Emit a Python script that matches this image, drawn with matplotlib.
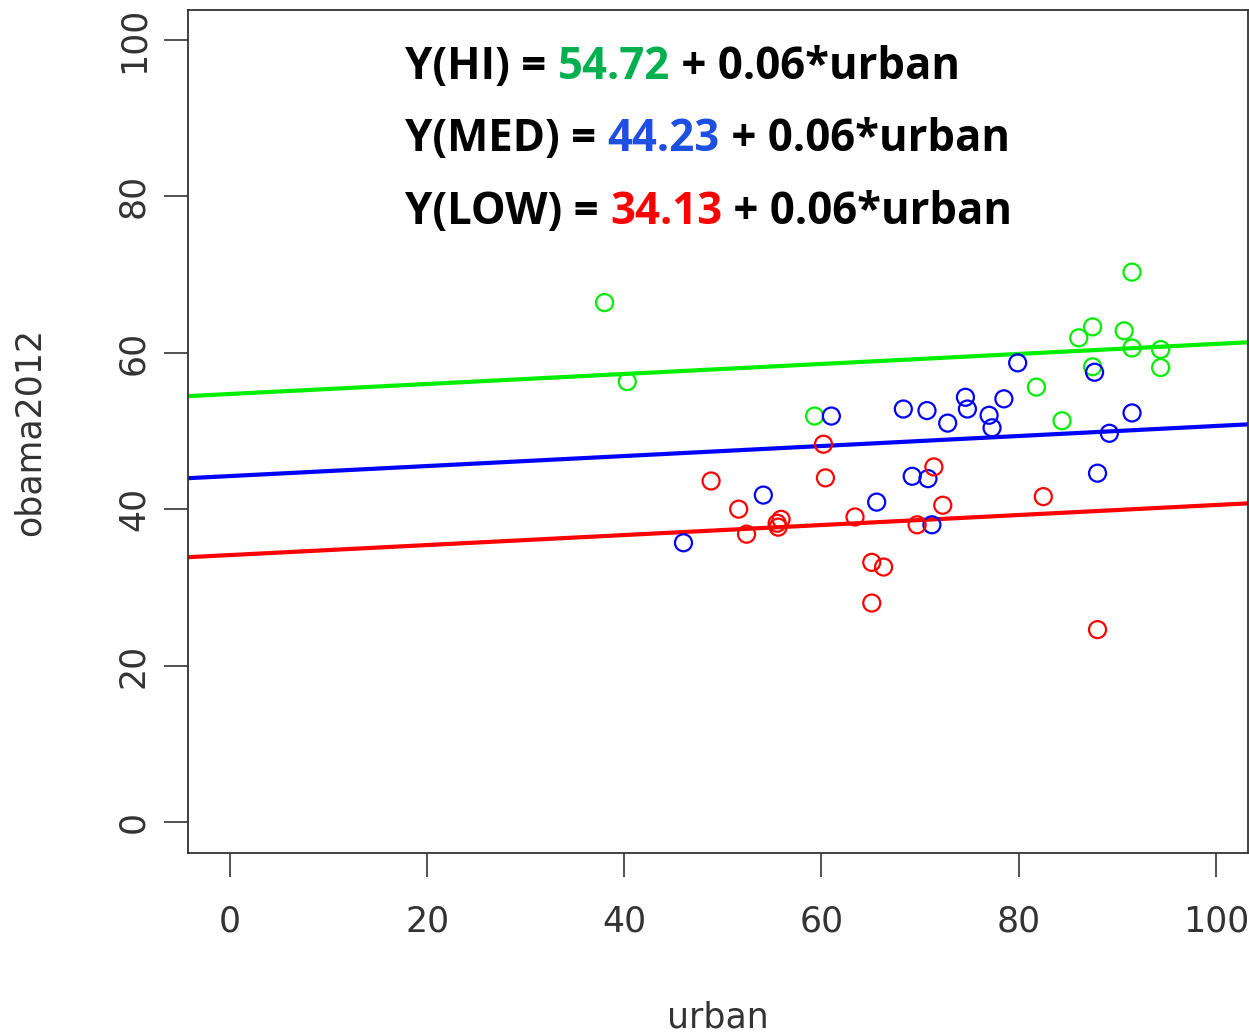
import numpy as np
import matplotlib
matplotlib.use("Agg")
from matplotlib import pyplot as plt

# datos
hi_x = [38.0, 40.3, 59.3, 81.8, 84.4, 86.1, 87.5, 87.5, 90.7, 91.5, 91.5, 94.4, 94.4]
hi_y = [66.4, 56.3, 51.9, 55.6, 51.3, 61.9, 63.3, 58.2, 62.8, 70.3, 60.6, 60.4, 58.1]
med_x = [46.0, 54.1, 61.0, 65.6, 68.3, 69.2, 70.7, 70.8, 71.2, 72.8, 74.6, 74.8, 77.0, 77.3,
         78.5, 79.9, 87.7, 88.0, 89.2, 91.5]
med_y = [35.7, 41.8, 51.9, 40.9, 52.8, 44.2, 52.6, 43.9, 38.0, 51.0, 54.3, 52.8, 52.0, 50.4,
         54.1, 58.7, 57.5, 44.6, 49.7, 52.3]
low_x = [48.8, 51.6, 52.4, 55.5, 55.9, 55.6, 60.2, 60.4, 63.4, 65.1, 66.3, 65.1, 71.4, 72.3,
         69.7, 82.5, 88.0]
low_y = [43.6, 40.0, 36.8, 38.2, 38.7, 37.7, 48.3, 44.0, 39.0, 33.2, 32.6, 28.0, 45.4, 40.5,
         38.0, 41.6, 24.6]
labels = ["HI", "MED", "LOW"]
intercepts = [54.72, 44.23, 34.13]
slope = 0.064
colors = ["#00ee00", "#0000ff", "#ff0000"]
text_colors = ["#00b050", "#1f4fe0", "#ff0000"]

fig = plt.figure(figsize=(12.49, 10.35), dpi=100)
ax = fig.add_axes([0.1505, 0.1758, 0.849, 0.8145])

xs = [hi_x, med_x, low_x]
ys = [hi_y, med_y, low_y]
for i in range(3):
    ax.scatter(xs[i], ys[i], s=150, facecolors="none", edgecolors=colors[i], linewidths=1.6, zorder=3)
    lx = np.array([-10, 110])
    ax.plot(lx, intercepts[i] + slope * lx, color=colors[i], lw=3, zorder=2)

ax.set_xlim(-4.26, 103.3)
ax.set_ylim(-3.96, 103.8)
ax.set_xticks(range(0, 101, 20))
ax.set_yticks(range(0, 101, 20))
ax.tick_params(direction="out", length=17, width=1.2, labelsize=25, colors="#333333")
ax.tick_params(axis="x", pad=20)
ax.tick_params(axis="y", pad=10)
for lab in ax.get_yticklabels():
    lab.set_rotation(90)
    lab.set_va("center")
for s in ax.spines.values():
    s.set_linewidth(1.3)
    s.set_color("#333333")
ax.set_xlabel("urban", fontsize=25, color="#333333", labelpad=45)
ax.set_ylabel("obama2012", fontsize=25, color="#333333", labelpad=50)

# ecuaciones con colores mezclados
fig.canvas.draw()
r = fig.canvas.get_renderer()
ys_text = [0.935, 0.865, 0.795]
for i in range(3):
    parts = [("Y(%s) = " % labels[i], "black"), ("%.2f" % intercepts[i], text_colors[i]),
             (" + %.2f*urban" % slope, "black")]
    x0 = 405 / 1249
    for txt, c in parts:
        t = fig.text(x0, ys_text[i], txt, color=c, fontsize=31.5, fontweight="bold",
                     family="Open Sans", va="center")
        bb = t.get_window_extent(renderer=r)
        x0 = bb.x1 / fig.bbox.width

fig.savefig("out.png", dpi=100)
